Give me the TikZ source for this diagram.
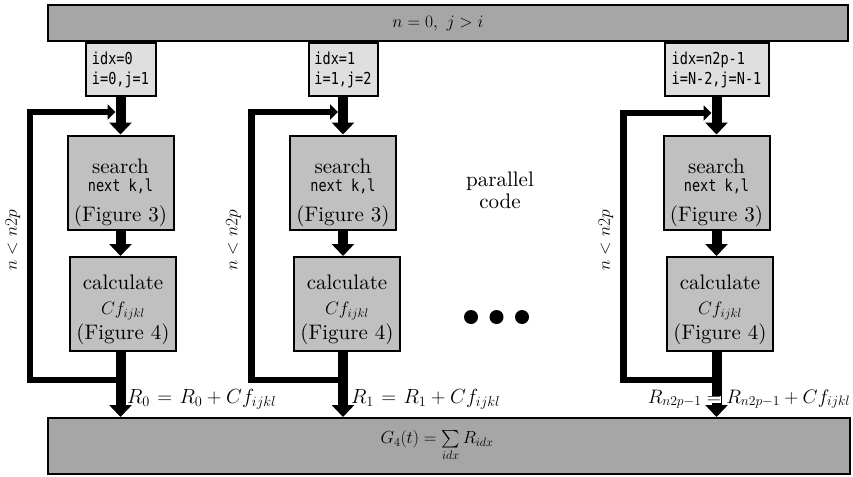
\RequirePackage{fix-cm}
\documentclass[tikz,border=0pt]{standalone}
\usepackage{fontspec}
\setmainfont{lmroman10-regular.otf}[BoldFont=lmroman10-bold.otf, ItalicFont=lmroman10-italic.otf]
\newfontfamily\codefont[FakeStretch=0.82]{DejaVu Sans Mono}
\DeclareFontShape{OMX}{cmex}{m}{n}{<-> cmex10}{}
\usetikzlibrary{arrows.meta,calc}
\definecolor{barg}{HTML}{A6A6A6}
\definecolor{procg}{HTML}{C0C0C0}
\definecolor{idxg}{HTML}{DFDFDF}
\begin{document}
\begin{tikzpicture}[x=1pt,y=-1pt,
  bar/.style={draw, line width=2pt, fill=barg, inner sep=0pt},
  idxbox/.style={draw, line width=2pt, fill=idxg, align=left, inner sep=0pt,
    minimum height=53pt, font=\codefont\fontsize{16.5}{20}\selectfont},
  procbox/.style={draw, line width=2pt, fill=procg, align=center, inner sep=0pt,
    minimum width=106pt, minimum height=94pt, font=\fontsize{21}{25}\selectfont},
  flow/.style={line width=10pt, -{Triangle[width=22pt,length=12pt]}},
  loopline/.style={line width=6.5pt, -{Triangle[width=15pt,length=8pt]}},
  cond/.style={rotate=90, font=\fontsize{17.5}{20}\selectfont},
  rlab/.style={font=\fontsize{20.5}{22}\selectfont, inner sep=0pt},
  barlab/.style={font=\fontsize{17.5}{20}\selectfont},
  dotmark/.style={circle, fill=black, inner sep=0pt, minimum size=14pt}
]
\useasboundingbox (0,0) rectangle (853,476);
\newcommand\codeline{{\codefont\fontsize{16.5}{20}\selectfont next k,l}}
\newcommand\cfmath{{\fontsize{18}{20}\selectfont$Cf_{ijkl}$}}

% bars
\node[bar, minimum width=800pt, minimum height=36pt,
  label={[xshift=-10pt, barlab]center:$n=0,\ j>i$}] (top) at (448,23) {};
\node[bar, minimum width=802pt, minimum height=56pt,
  label={[xshift=-12pt, barlab]center:$G_4(t)=\sum\limits_{idx}R_{idx}$}] (bot) at (449,446) {};

% column 1
\node[idxbox, minimum width=70pt, anchor=north] (idx1) at (120.5,42) {idx=0\\i=0,j=1};
\node[procbox] (srch1) at (120.5,182.5) {\rule{0pt}{36pt}search\\[-7pt]\codeline\\[5pt](Figure 3)};
\node[procbox] (calc1) at (123,304) {\rule{0pt}{27pt}calculate\\\cfmath\\(Figure 4)};

% column 2
\node[idxbox, minimum width=69pt, anchor=north] (idx2) at (343,42) {idx=1\\i=1,j=2};
\node[procbox] (srch2) at (343,182.5) {\rule{0pt}{36pt}search\\[-7pt]\codeline\\[5pt](Figure 3)};
\node[procbox] (calc2) at (347,304) {\rule{0pt}{27pt}calculate\\\cfmath\\(Figure 4)};

% column 3
\node[idxbox, minimum width=104pt, anchor=north] (idx3) at (716.5,42) {idx=n2p-1\\i=N-2,j=N-1};
\node[procbox] (srch3) at (716.5,182.5) {\rule{0pt}{36pt}search\\[-7pt]\codeline\\[5pt](Figure 3)};
\node[procbox] (calc3) at (720,304) {\rule{0pt}{27pt}calculate\\\cfmath\\(Figure 4)};

% loops
\coordinate (j1) at (120.5,380); \coordinate (c1) at (30,112);
\coordinate (j2) at (343,380);   \coordinate (c2) at (251.5,112);
\coordinate (j3) at (716.5,380); \coordinate (c3) at (623.5,113);
\draw[loopline] (j1) -| (c1) -- ($(c1 -| srch1.north)+(-5,0)$);
\draw[loopline] (j2) -| (c2) -- ($(c2 -| srch2.north)+(-5,0)$);
\draw[loopline] (j3) -| (c3) -- ($(c3 -| srch3.north)+(-5,0)$);

% main flow
\foreach \i in {1,2,3}{
  \draw[flow] (idx\i.south) -- (srch\i.north);
  \draw[flow] (srch\i.south) -- (srch\i.south |- calc\i.north);
  \draw[flow] (srch\i.south |- calc\i.south) -- (srch\i.south |- bot.north);
}

% conditions
\node[cond] (n1) at (13,240) {$n<n2p$};
\node[cond] (n2) at (233.5,240) {$n<n2p$};
\node[cond] (n3) at (606,240) {$n<n2p$};

% result labels
\node[rlab, anchor=base west] (r1) at (127,403) {\thickmuskip=6.5mu$R_0=R_0+Cf_{ijkl}$};
\node[rlab, anchor=base west] (r2) at (351,403) {\thickmuskip=6.5mu$R_1=R_1+Cf_{ijkl}$};
\setlength{\fboxsep}{0pt}
\node[rlab, anchor=base, font=\fontsize{19.5}{22}\selectfont] (r3) at (749,403) {$R_{n2p-1}\mathrel{\colorbox{white}{$=$}}R_{n2p-1}+Cf_{ijkl}$};

% parallel code
\node[align=center, font=\fontsize{21}{22}\selectfont] (par) at (500,190) {parallel\\code};
\node[dotmark] (d1) at (471,317) {};
\node[dotmark] (d2) at (496.5,317) {};
\node[dotmark] (d3) at (522,317) {};
\end{tikzpicture}
\end{document}
